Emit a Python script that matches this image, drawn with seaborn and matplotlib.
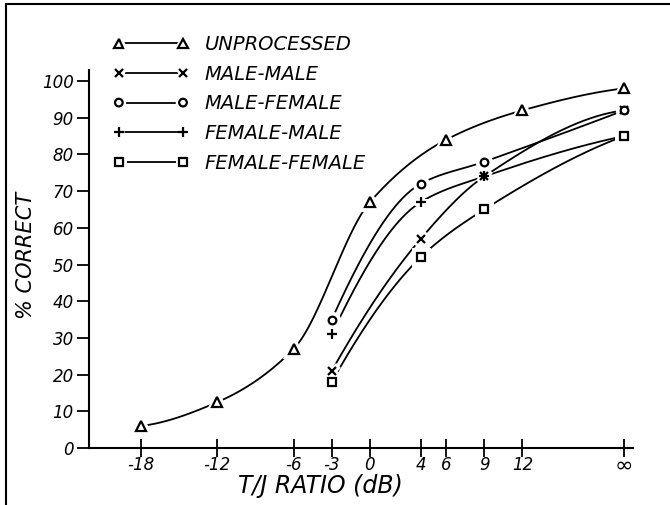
import numpy as np
import pandas as pd
import matplotlib
matplotlib.use("Agg")
import matplotlib.pyplot as plt
import seaborn as sns
from matplotlib import patheffects as pe
from matplotlib.lines import Line2D

sns.set_theme(style="white")
plt.rcParams["font.family"] = ["DejaVu Sans"]
plt.rcParams["text.color"] = "black"
plt.rcParams["axes.labelcolor"] = "black"
plt.rcParams["xtick.color"] = "black"
plt.rcParams["ytick.color"] = "black"

# ---------------- data ----------------
tick_db = [-18, -12, -6, -3, 0, 4, 6, 9, 12, np.inf]
tick_labels = ["-18", "-12", "-6", "-3", "0", "4", "6", "9", "12", "∞"]
y_ticks = [0, 10, 20, 30, 40, 50, 60, 70, 80, 90, 100]

series_names = ["UNPROCESSED", "MALE-MALE", "MALE-FEMALE", "FEMALE-MALE", "FEMALE-FEMALE"]
unprocessed_x = [-18, -12, -6, 0, 6, 12, np.inf]
unprocessed_y = [6, 12.5, 27, 67, 84, 92, 98]
processed_x = [-3, 4, 9, np.inf]
male_male = [21, 57, 74, 92]
male_female = [35, 72, 78, 92]
female_male = [31, 67, 74, 85]
female_female = [18, 52, 65, 85]

# ---------------- layout / style ----------------
INF_POS = 20.0  # where the "infinity" column is drawn on the axis
styles = {
    "UNPROCESSED": dict(marker="^", ms=6.5, mfc="white", mew=1.6),
    "MALE-MALE": dict(marker="x", ms=6, mfc="black", mew=1.6),
    "MALE-FEMALE": dict(marker="o", ms=5.5, mfc="white", mew=1.6),
    "FEMALE-MALE": dict(marker="+", ms=7.5, mfc="black", mew=1.6),
    "FEMALE-FEMALE": dict(marker="s", ms=6, mfc="white", mew=1.6),
}


def to_pos(x):
    x = np.asarray(x, float)
    return np.where(np.isinf(x), INF_POS, x)


def pchip(x, y, n=300):
    x = np.asarray(x, float)
    y = np.asarray(y, float)
    h = np.diff(x)
    d = np.diff(y) / h
    m = np.zeros_like(y)
    for k in range(1, len(x) - 1):
        if d[k - 1] * d[k] > 0:
            w1 = 2 * h[k] + h[k - 1]
            w2 = h[k] + 2 * h[k - 1]
            m[k] = (w1 + w2) / (w1 / d[k - 1] + w2 / d[k])

    def end(h0, h1, d0, d1):
        mm = ((2 * h0 + h1) * d0 - h0 * d1) / (h0 + h1)
        if np.sign(mm) != np.sign(d0):
            mm = 0.0
        elif np.sign(d0) != np.sign(d1) and abs(mm) > abs(3 * d0):
            mm = 3 * d0
        return mm

    if len(x) > 2:
        m[0] = end(h[0], h[1], d[0], d[1])
        m[-1] = end(h[-1], h[-2], d[-1], d[-2])
    else:
        m[0] = m[-1] = d[0]
    xs = np.linspace(x[0], x[-1], n)
    idx = np.clip(np.searchsorted(x, xs) - 1, 0, len(h) - 1)
    t = (xs - x[idx]) / h[idx]
    h00 = 2 * t**3 - 3 * t**2 + 1
    h10 = t**3 - 2 * t**2 + t
    h01 = -2 * t**3 + 3 * t**2
    h11 = t**3 - t**2
    ys = h00 * y[idx] + h10 * h[idx] * m[idx] + h01 * y[idx + 1] + h11 * h[idx] * m[idx + 1]
    return xs, ys


points = {
    "UNPROCESSED": (unprocessed_x, unprocessed_y),
    "MALE-MALE": (processed_x, male_male),
    "MALE-FEMALE": (processed_x, male_female),
    "FEMALE-MALE": (processed_x, female_male),
    "FEMALE-FEMALE": (processed_x, female_female),
}

# long tables
pts_rows, curve_rows = [], []
for name in series_names:
    xv, yv = points[name]
    for a, b in zip(to_pos(xv), yv):
        pts_rows.append((name, a, b))
    cx, cy = pchip(to_pos(xv), yv)
    for a, b in zip(cx, cy):
        curve_rows.append((name, a, b))
pts = pd.DataFrame(pts_rows, columns=["series", "x", "y"])
curves = pd.DataFrame(curve_rows, columns=["series", "x", "y"])

W, H = 670, 505
fig = plt.figure(figsize=(W / 100, H / 100), dpi=100)
ax = fig.add_axes([89 / W, 1 - 448 / H, (633 - 89) / W, (448 - 70) / H])

# smooth curves
for name in series_names:
    sns.lineplot(data=curves[curves.series == name], x="x", y="y", ax=ax,
                 color="black", lw=1.3, sort=False, estimator=None, legend=False)

# white halos (gaps of the curve around markers), then the markers
for name in series_names:
    d = pts[pts.series == name]
    st = styles[name]
    ax.plot(d.x, d.y, ls="none", marker=st["marker"], ms=st["ms"] + 2,
            mfc="white", mec="white", mew=5, zorder=3)
for name in series_names:
    d = pts[pts.series == name]
    st = styles[name]
    ax.plot(d.x, d.y, ls="none", marker=st["marker"], ms=st["ms"],
            mfc=st["mfc"], mec="black", mew=st["mew"], zorder=4)

ax.set_xlim(-22.1, 20.7)
ax.set_ylim(0, 103)
ax.set_xticks(to_pos(tick_db))
ax.set_xticklabels(tick_labels, fontsize=12, style="italic")
ax.get_xticklabels()[-1].set_fontsize(16)
ax.set_yticks(y_ticks)
ax.set_yticklabels([str(v) for v in y_ticks], fontsize=12, style="italic")
ax.tick_params(axis="x", direction="inout", length=13, width=1.3, pad=-1, colors="black")
ax.tick_params(axis="y", direction="out", length=9, width=1.3, pad=2, colors="black")
ax.tick_params(bottom=True, left=True)
for s in ["top", "right"]:
    ax.spines[s].set_visible(False)
for s in ["left", "bottom"]:
    ax.spines[s].set_color("black")
    ax.spines[s].set_linewidth(1.5)
ax.set_facecolor("white")
ax.grid(False)

ax.set_xlabel("T/J RATIO (dB)", fontsize=17, style="italic")
ax.set_ylabel("% CORRECT", fontsize=15, style="italic")
ax.xaxis.set_label_coords(0.425, -0.07)
ax.yaxis.set_label_coords(-0.097, 0.51)

# legend
halo = [pe.Stroke(linewidth=5, foreground="white"), pe.Normal()]
handles = []
for name in series_names:
    st = styles[name]
    h = Line2D([], [], color="black", lw=1.3, marker=st["marker"], ms=st["ms"],
               mfc=st["mfc"], mec="black", mew=st["mew"], path_effects=halo)
    handles.append(h)
fig.legend(handles, series_names, loc="upper left", bbox_to_anchor=(113 / W, 1 - 35 / H),
           frameon=False, numpoints=2, handlelength=3.9, handletextpad=0.8,
           labelspacing=0.55, borderpad=0, borderaxespad=0,
           prop={"size": 14, "style": "italic"})

# page border (left and top edge of the scanned figure)
fig.add_artist(Line2D([6 / W, 6 / W], [0, 1 - 4 / H], color="black", lw=1.5, transform=fig.transFigure))
fig.add_artist(Line2D([6 / W, 1], [1 - 4 / H, 1 - 4 / H], color="black", lw=1.5, transform=fig.transFigure))

fig.savefig("out.png", dpi=100, facecolor="white")
